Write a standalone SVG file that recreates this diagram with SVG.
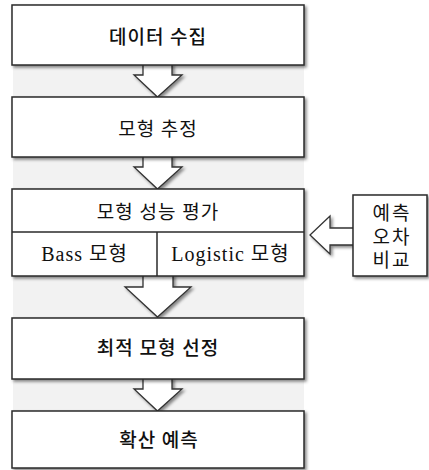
<svg xmlns="http://www.w3.org/2000/svg" width="429" height="470" viewBox="0 0 429 470">
<defs>
<filter id="sh" x="-10%" y="-10%" width="130%" height="140%">
<feDropShadow dx="2" dy="2" stdDeviation="1.5" flood-color="#000" flood-opacity="0.45"/>
</filter>
</defs>
<style>
.box{fill:#fff;stroke:#2a2a2a;stroke-width:1.5;filter:url(#sh)}
.arr{fill:#fff;stroke:#333;stroke-width:1.3;stroke-linejoin:miter;filter:url(#sh)}
.ln{stroke:#2a2a2a;stroke-width:1.5}
.t{font-family:"Liberation Serif","Noto Sans CJK KR",serif;font-size:19px;fill:#111;text-anchor:middle;dominant-baseline:central}
.b{font-weight:500}
.l{font-size:20px}
</style>
<rect x="13" y="5" width="291" height="463" fill="#f2f2f2"/>
<g id="connectors">
<polygon class="arr" points="143,64 143,75 134,75 157.5,97 182,75 172,75 172,64"/>
<polygon class="arr" points="143,156 143,167 134,167 157.5,189 182,167 172,167 172,156"/>
<polygon class="arr" points="143,275 143,287 125,287 157.5,317 191,287 173,287 173,275"/>
<polygon class="arr" points="143,378 143,389 134,389 157.5,411 182,389 172,389 172,378"/>
<polygon class="arr" points="354,228 330,228 330,216 310,235 330,254 330,245 354,245"/>
</g>
<g id="n1"><rect class="box" x="12" y="5" width="292" height="60"/><text class="t b" x="158" y="37" letter-spacing="1">데이터 수집</text></g>
<g id="n2"><rect class="box" x="12" y="97" width="292" height="60"/><text class="t" x="158" y="129" letter-spacing="1">모형 추정</text></g>
<g id="n3"><rect class="box" x="12" y="189" width="292" height="87"/>
<line class="ln" x1="12" y1="232" x2="304" y2="232"/><line class="ln" x1="157" y1="232" x2="157" y2="276"/>
<text class="t" x="158" y="212" letter-spacing="1">모형 성능 평가</text>
<text class="t l" x="84.5" y="254" letter-spacing="1">Bass 모형</text>
<text class="t l" x="230.5" y="254" letter-spacing="1">Logistic 모형</text></g>
<g id="n4"><rect class="box" x="12" y="318" width="292" height="61"/><text class="t b" x="158" y="348" letter-spacing="1">최적 모형 선정</text></g>
<g id="n5"><rect class="box" x="12" y="411" width="292" height="57"/><text class="t b" x="159" y="440" letter-spacing="1">확산 예측</text></g>
<g id="n6"><rect class="box" x="353" y="195" width="74" height="81"/>
<text class="t" x="392" y="213" letter-spacing="2">예측</text>
<text class="t" x="392" y="237" letter-spacing="2">오차</text>
<text class="t" x="392" y="260" letter-spacing="2">비교</text></g>
</svg>
